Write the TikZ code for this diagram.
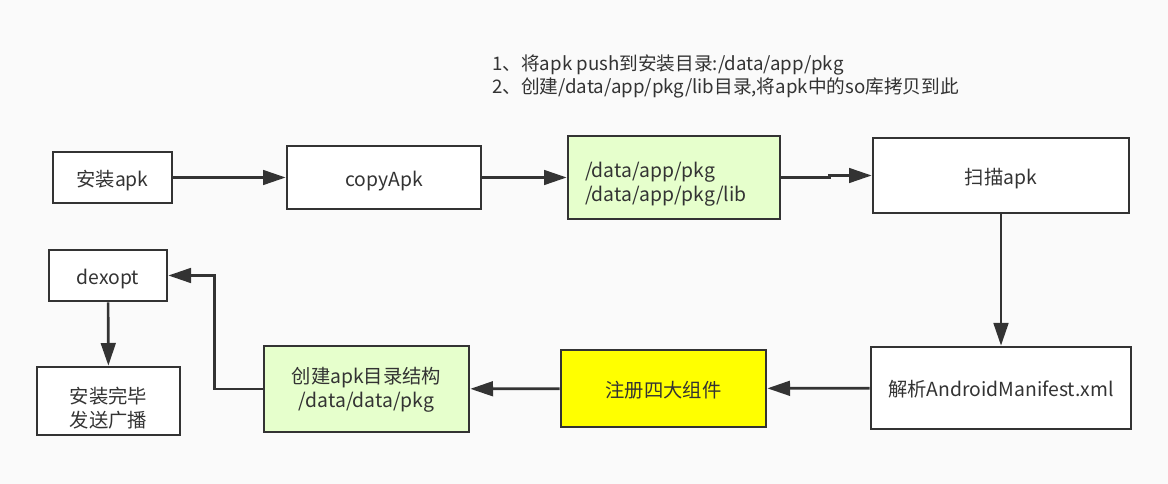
\documentclass[tikz,border=0pt]{standalone}
\usepackage{fontspec}
\setmainfont{Noto Sans CJK SC}
\usetikzlibrary{arrows.meta}
\definecolor{ink}{HTML}{333333}
\definecolor{paper}{HTML}{FAFAFA}
\definecolor{libgreen}{HTML}{E6FFCC}
\definecolor{regyellow}{HTML}{FFFF00}

\begin{document}
\begin{tikzpicture}[x=0.75pt,y=-0.75pt,
  box/.style={draw=ink,line width=2pt,fill=white,inner sep=0pt,align=center,
    text=ink,font=\fontsize{14.5}{18}\selectfont,text height=17pt,text depth=3.5pt},
  twolines/.style={text depth=21.5pt},
  flow/.style={draw=ink,line width=2pt,-{Triangle[length=17pt,width=11pt]}}]

\useasboundingbox[fill=paper] (0,0) rectangle (1168,484);

% top row
\node [box,twolines,fill=libgreen,minimum width=159pt,minimum height=62.25pt,text width=133.5pt,align=left,text height=21.5pt] (lib) at (674,177.5) {/data/app/pkg\\/data/app/pkg/lib};
\node [box,minimum width=89.25pt,minimum height=38.25pt] (install) at (112.5,177.5) {安装apk};
\node [box,minimum width=145.5pt,minimum height=47.25pt] (copy) at (384,177.5) {copyApk};
\node [box,minimum width=192pt,minimum height=56.25pt] (scan) at (1001,175.5) {扫描apk};

\node [anchor=west,align=left,text=ink,inner sep=0pt,font=\fontsize{14}{17.25}\selectfont] (note) at (492,76.5) {1、将apk push到安装目录:/data/app/pkg\\2、创建/data/app/pkg/lib目录,将apk中的so库拷贝到此};

% bottom row
\node [box,minimum width=195pt,minimum height=61.5pt] (manifest) at (1001,388) {解析AndroidManifest.xml};
\node [box,fill=regyellow,minimum width=153.75pt,minimum height=57.75pt] (reg) at (663.5,388.5) {注册四大组件};
\node [box,twolines,fill=libgreen,minimum width=153.75pt,minimum height=64.5pt,text width=140pt,text height=13.2pt] (datadir) at (366.5,389) {创建apk目录结构\\/data/data/pkg};
\node [box,minimum width=88.5pt,minimum height=38.25pt] (dexopt) at (108,275.5) {dexopt};
\node [box,twolines,minimum width=107.25pt,minimum height=51pt,text width=95pt,text height=25.2pt] (done) at (108.5,401) {安装完毕\\发送广播};

\draw[flow] (install) -- (copy);
\draw[flow] (copy) -- (lib);
\draw[flow] (lib.east) -- ++(48,0) |- (scan.west);
\draw[flow] (scan) -- (manifest);
\draw[flow] (manifest) -- (reg);
\draw[flow] (reg) -- (datadir);
\draw[flow] (datadir.west) -- ++(-48,0) |- (dexopt.east);
\draw[flow] (dexopt) -- (done);

\end{tikzpicture}
\end{document}
